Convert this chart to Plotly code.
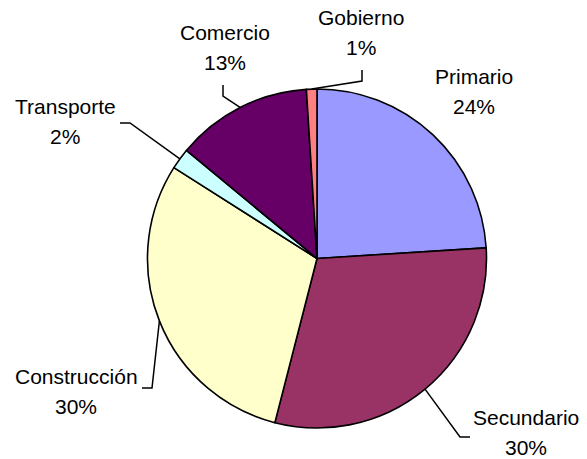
import math
import plotly.graph_objects as go

# Datos
sectores = ["Primario", "Secundario", "Construcción", "Transporte", "Comercio", "Gobierno"]
porcentajes = [24, 30, 30, 2, 13, 1]
colores = ["#9999FF", "#993366", "#FFFFCC", "#CCFFFF", "#660066", "#FF8080"]

# Layout (pixeles)
W, H = 587, 459
CX, CY, R = 317, 258.5, 169.5
# centro de cada etiqueta, lado del conector ('r', 'l', 'b' o None) y punto de anclaje relativo
label_pos = [(474, 91), (526, 432), (76, 391), (65, 121), (225, 47), (361, 33)]
label_side = [None, "l", "r", "r", "b", "b"]
label_anchor = [(0, 0), (-56, 5), (66, -3), (55, 2), (-2, 38), (1, 37)]
FONT = dict(family="Arial, Liberation Sans, sans-serif", size=21, color="black")


def px(x, y):
    return x / W, 1 - y / H


fig = go.Figure(go.Pie(
    labels=sectores, values=porcentajes, sort=False, direction="clockwise", rotation=0,
    marker=dict(colors=colores, line=dict(color="black", width=1.6)),
    textinfo="none", hoverinfo="label+percent", showlegend=False,
    domain=dict(x=[(CX - R) / W, (CX + R) / W], y=[1 - (CY + R) / H, 1 - (CY - R) / H]),
))

total = sum(porcentajes)
acum = 0
shapes = []
annotations = []
for i, (nombre, val) in enumerate(zip(sectores, porcentajes)):
    mid = (acum + val / 2) / total * 2 * math.pi
    acum += val
    ex, ey = CX + R * math.sin(mid), CY - R * math.cos(mid)
    lx, ly = label_pos[i]
    annotations.append(dict(x=px(lx, ly - 15)[0], y=px(lx, ly - 15)[1], xref="paper", yref="paper",
                            text=nombre, showarrow=False, font=FONT, xanchor="center", yanchor="middle"))
    annotations.append(dict(x=px(lx, ly + 15)[0], y=px(lx, ly + 15)[1], xref="paper", yref="paper",
                            text=f"{val}%", showarrow=False, font=FONT, xanchor="center", yanchor="middle"))
    side = label_side[i]
    if side is None:
        continue
    ax, ay = lx + label_anchor[i][0], ly + label_anchor[i][1]
    if side == "r":
        bx, by = ax + 10, ay
    elif side == "l":
        bx, by = ax - 10, ay
    else:
        bx, by = ax, ay + 11
    pts = [px(ax, ay), px(bx, by), px(ex, ey)]
    path = "M " + " L ".join(f"{x:.5f},{y:.5f}" for x, y in pts)
    shapes.append(dict(type="path", path=path, xref="paper", yref="paper",
                       line=dict(color="black", width=1.5)))

fig.update_layout(
    width=W, height=H, margin=dict(l=0, r=0, t=0, b=0),
    paper_bgcolor="white", plot_bgcolor="white",
    shapes=shapes, annotations=annotations,
)

fig.write_html("out.html", config={"displayModeBar": False},
               post_script="document.body.style.margin='0';")
